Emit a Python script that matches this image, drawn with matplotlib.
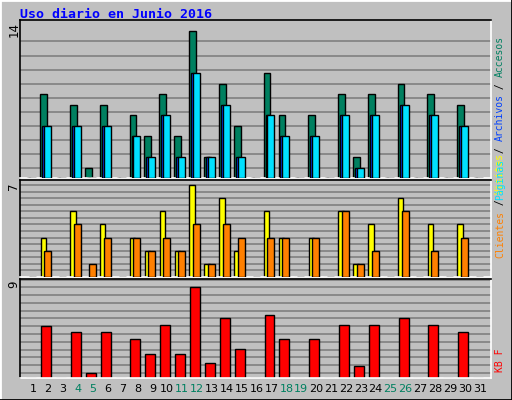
import matplotlib
matplotlib.use("Agg")
import matplotlib.pyplot as plt
import numpy as np

days = list(range(1, 32))
accesos  = [0,8,0,7,1,7,0,6,4,8,4,14,2,9,5,0,10,6,0,6,0,8,2,8,0,9,0,8,0,7,0]
archivos = [0,5,0,5,0,5,0,4,2,6,2,10,2,7,2,0,6,4,0,4,0,6,1,6,0,7,0,6,0,5,0]
paginas  = [0,5,0,5,0,5,0,4,2,6,2,10,2,7,2,0,6,4,0,4,0,6,1,6,0,7,0,6,0,5,0]
visitas  = [0,3,0,5,0,4,0,3,2,5,2,7,1,6,2,0,5,3,0,3,0,5,1,4,0,6,0,4,0,4,0]
clientes = [0,2,0,4,1,3,0,3,2,3,2,4,1,4,3,0,3,3,0,3,0,5,1,2,0,5,0,2,0,3,0]
kbf      = [0,5.15,0,4.55,0.5,4.55,0,3.86,2.38,5.25,2.38,9,1.49,5.94,2.87,0,6.24,3.86,0,3.86,0,5.25,1.19,5.25,0,5.94,0,5.25,0,4.55,0]
weekend = {4,5,11,12,18,19,25,26}

W, H = 512, 400
fig = plt.figure(figsize=(W/100, H/100), dpi=100, facecolor="#c0c0c0")
def px_axes(x0, y0, x1, y1):
    return fig.add_axes([x0/W, 1-y1/H, (x1-x0)/W, (y1-y0)/H])

fig.add_artist(plt.Line2D([0, 0], [0, 1], color="white", lw=2, transform=fig.transFigure))
fig.add_artist(plt.Line2D([0, 1], [1, 1], color="white", lw=2, transform=fig.transFigure))
fig.add_artist(plt.Line2D([1, 1], [0, 1], color="black", lw=2, transform=fig.transFigure))
fig.add_artist(plt.Line2D([0, 1], [0, 0], color="black", lw=2, transform=fig.transFigure))

x = np.array(days, dtype=float)
xlim = (0.11, 31.74)

def style(ax, ymax, grid):
    ax.set_facecolor("#c0c0c0")
    ax.set_xlim(*xlim)
    ax.set_ylim(0, ymax)
    ax.set_xticks([]); ax.set_yticks([])
    for g in grid:
        ax.axhline(g, color="#808080", lw=1.2, zorder=0)
    for s in ("top", "left"):
        ax.spines[s].set_color("black")
    for s in ("bottom", "right"):
        ax.spines[s].set_color("white")
    for s in ax.spines.values():
        s.set_linewidth(1.2)

ax1 = px_axes(20, 20, 491, 178)
style(ax1, 14*158/147, np.arange(13, 0, -4/3))
ax1.bar(x-0.53, accesos, width=0.46, align="edge", color="#008060", edgecolor="black", lw=1, zorder=2)
ax1.bar(x-0.40, archivos, width=0.2, align="edge", color="#0040ff", edgecolor="black", lw=1, zorder=3)
ax1.bar(x-0.27, paginas, width=0.47, align="edge", color="#00e0ff", edgecolor="black", lw=1, zorder=4)

ax2 = px_axes(20, 180, 491, 277)
style(ax2, 7*97/92, np.arange(0.5, 7.2, 0.5))
ax2.bar(x-0.51, visitas, width=0.36, align="edge", color="#ffff00", edgecolor="black", lw=1, zorder=2)
ax2.bar(x-0.27, clientes, width=0.47, align="edge", color="#ff8000", edgecolor="black", lw=1, zorder=3)

ax3 = px_axes(20, 279, 491, 378)
style(ax3, 9*99/91, np.arange(0.5, 9.8, 0.77))
ax3.bar(x-0.47, kbf, width=0.67, align="edge", color="#ff0000", edgecolor="black", lw=1, zorder=2)

mono = "DejaVu Sans Mono"
fig.text(20/W, 1-14/H, "Uso diario en Junio 2016", color="#0000ff", fontsize=9.5,
         fontweight="bold", family=mono, va="center", ha="left")
for ypx, t in [(22, "14"), (182, "7"), (281, "9")]:
    fig.text(14/W, 1-ypx/H, t, rotation=90, fontsize=8.5, family="DejaVu Sans",
             va="top", ha="center")
for d in days:
    xp = 20 + (d - xlim[0]) / (xlim[1]-xlim[0]) * 471
    fig.text(xp/W, 1-389/H, str(d), fontsize=8, ha="center", va="center",
             color="#008060" if d in weekend else "black")

FS = 7
adv = FS * 0.602 * 100 / 72
def vlabel(parts, ybottom):
    y = ybottom
    for t, c in parts:
        fig.text(500/W, 1-y/H, t, rotation=90, fontsize=FS, family=mono,
                 color=c, ha="center", va="bottom")
        y -= len(t) * adv
vlabel([("Clientes", "#ff8000"), (" / ", "black"), ("Visitas", "#ffff00")], 258)
vlabel([("Páginas", "#00e0ff"), (" / ", "black"), ("Archivos", "#0040ff"), (" / ", "black"), ("Accesos", "#008060")], 200)
vlabel([("KB F", "#ff0000")], 372)

fig.savefig("out.png", dpi=100, facecolor=fig.get_facecolor())
